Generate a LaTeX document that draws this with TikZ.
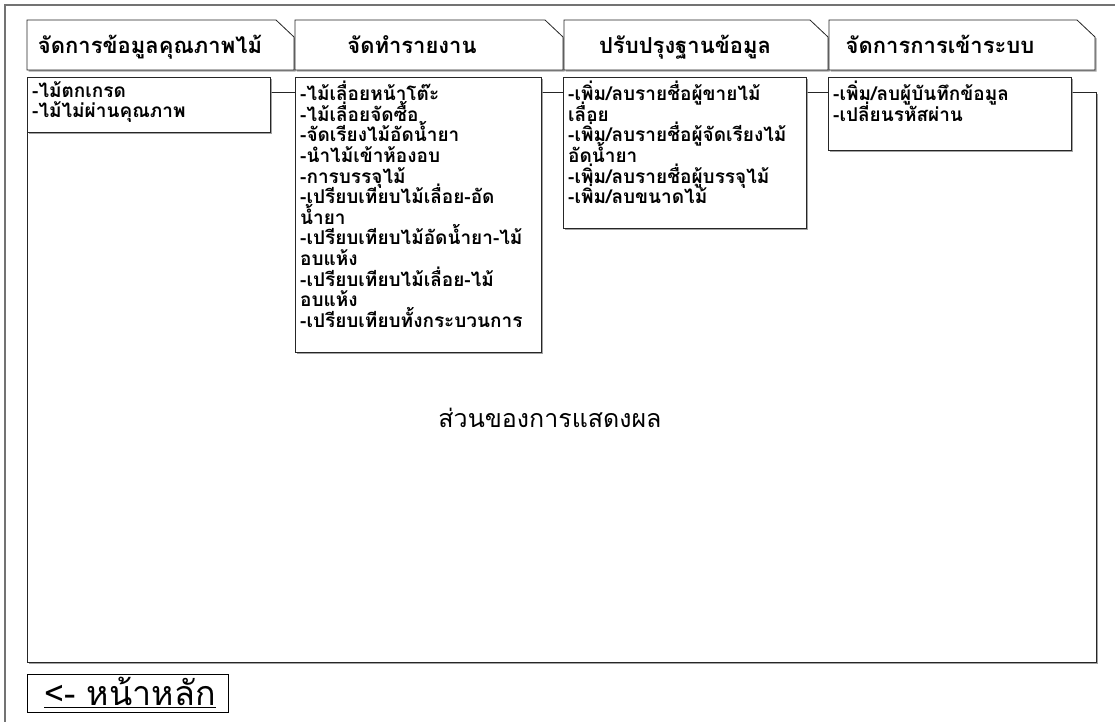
\documentclass[tikz,border=0pt]{standalone}
\usepackage{fontspec}
\newfontfamily\thai[Script=Thai]{Loma}
\usetikzlibrary{shadows}

% list font with a fixed line pitch, even for lines with stacked marks
\newcommand\listfont{\thai\bfseries\fontsize{19}{20.6}\selectfont\lineskiplimit=-50pt\relax}

\tikzset{
  screenline/.style={draw=black!55, line width=1.2pt},
  softshadow/.style={drop shadow={shadow xshift=1.6pt, shadow yshift=-1.6pt, fill=black!45, opacity=0.8}},
  menutab/.style={draw=black!85, fill=white, line width=0.8pt, softshadow},
  tabtext/.style={font=\thai\bfseries\fontsize{22}{24}\selectfont, inner sep=0pt, anchor=base},
  panel/.style={draw=black!85, fill=white, line width=0.8pt, softshadow, inner sep=0pt, anchor=north west},
  listtext/.style={font=\listfont, align=left, inner sep=0pt, anchor=north west},
}

% one menu tab with a cut top-right corner: \menutabshape{left}{right}
\newcommand\menutabshape[2]{%
  \path[menutab] (#1,70) -- (#1,20) -- ({#2-18},20) -- (#2,37) -- (#2,70) -- cycle;}

\begin{document}
\begin{tikzpicture}[x=1pt, y=-1pt]
\useasboundingbox (0,0) rectangle (1115,722);

% screen frame
\draw[screenline] (1115,5) -- (5,5) -- (5,722);

% menu tabs
\menutabshape{27}{294}
\menutabshape{295}{563}
\menutabshape{564}{828}
\menutabshape{829}{1095}
\node[tabtext] (tabA) at (150,54) {จัดการข้อมูลคุณภาพไม้};
\node[tabtext] (tabB) at (412,54) {จัดทำรายงาน};
\node[tabtext] (tabC) at (685,54) {ปรับปรุงฐานข้อมูล};
\node[tabtext] (tabD) at (940,54) {จัดการการเข้าระบบ};

% display area
\node[panel, minimum width=1069pt, minimum height=570pt] (view) at (27,92) {};
\node[font=\thai\fontsize{25}{28}\selectfont, inner sep=0pt] (viewlabel) at (550,418) {ส่วนของการแสดงผล};

% submenu panels
\node[panel, minimum width=243pt, minimum height=55pt] (subA) at (27,77) {};
\node[panel, minimum width=246pt, minimum height=275pt] (subB) at (295,77) {};
\node[panel, minimum width=243pt, minimum height=151pt] (subC) at (563,77) {};
\node[panel, minimum width=243pt, minimum height=73pt] (subD) at (828,77) {};

\node[listtext] (listA) at ([shift={(5pt,-4pt)}]subA.north west)
  {-ไม้ตกเกรด\\-ไม้ไม่ผ่านคุณภาพ};
\node[listtext] (listB) at ([shift={(5pt,-4pt)}]subB.north west)
  {-ไม้เลื่อยหน้าโต๊ะ\\-ไม้เลื่อยจัดซื้อ\\-จัดเรียงไม้อัดน้ำยา\\-นำไม้เข้าห้องอบ\\-การบรรจุไม้\\-เปรียบเทียบไม้เลื่อย-อัด\\น้ำยา\\-เปรียบเทียบไม้อัดน้ำยา-ไม้\\อบแห้ง\\-เปรียบเทียบไม้เลื่อย-ไม้\\อบแห้ง\\-เปรียบเทียบทั้งกระบวนการ};
\node[listtext] (listC) at ([shift={(5pt,-4pt)}]subC.north west)
  {-เพิ่ม/ลบรายชื่อผู้ขายไม้\\เลื่อย\\-เพิ่ม/ลบรายชื่อผู้จัดเรียงไม้\\อัดน้ำยา\\-เพิ่ม/ลบรายชื่อผู้บรรจุไม้\\-เพิ่ม/ลบขนาดไม้};
\node[listtext] (listD) at ([shift={(5pt,-4pt)}]subD.north west)
  {-เพิ่ม/ลบผู้บันทึกข้อมูล\\-เปลี่ยนรหัสผ่าน};

% back button
\node[draw=black, line width=1pt, minimum width=201pt, minimum height=38pt, anchor=north west, inner sep=0pt] (home) at (27,674) {};
\node[font=\thai\fontsize{34}{36}\selectfont, inner sep=0pt] (homelabel) at ([shift={(2pt,1pt)}]home.center) {\underline{<-\ หน้าหลัก}};
\end{tikzpicture}
\end{document}
